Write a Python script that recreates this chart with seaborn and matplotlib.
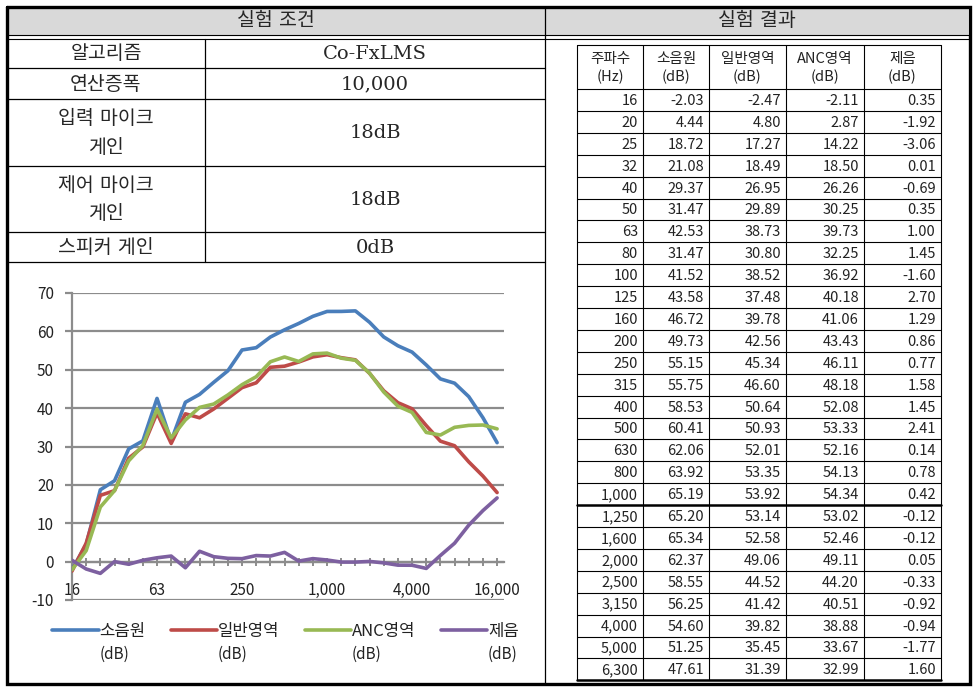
# 실험 조건 / 실험 결과 표 + 주파수별 소음 저감 그래프
import numpy as np
import pandas as pd
import matplotlib.pyplot as plt
import seaborn as sns

# ── 데이터 ───────────────────────────────────────────────
# 1/3 옥타브 중심 주파수 (표는 6,300 Hz 까지, 그래프는 16,000 Hz 까지)
freq = ["16", "20", "25", "32", "40", "50", "63", "80", "100", "125", "160",
        "200", "250", "315", "400", "500", "630", "800", "1,000", "1,250",
        "1,600", "2,000", "2,500", "3,150", "4,000", "5,000", "6,300",
        "8,000", "10,000", "12,500", "16,000"]
n_table = 27

source = [-2.03, 4.44, 18.72, 21.08, 29.37, 31.47, 42.53, 31.47, 41.52, 43.58,
          46.72, 49.73, 55.15, 55.75, 58.53, 60.41, 62.06, 63.92, 65.19, 65.20,
          65.34, 62.37, 58.55, 56.25, 54.60, 51.25, 47.61,
          46.5, 43.0, 37.5, 31.0]
general = [-2.47, 4.80, 17.27, 18.49, 26.95, 29.89, 38.73, 30.80, 38.52, 37.48,
           39.78, 42.56, 45.34, 46.60, 50.64, 50.93, 52.01, 53.35, 53.92, 53.14,
           52.58, 49.06, 44.52, 41.42, 39.82, 35.45, 31.39,
           30.2, 26.0, 22.3, 18.0]
anc = [-2.11, 2.87, 14.22, 18.50, 26.26, 30.25, 39.73, 32.25, 36.92, 40.18,
       41.06, 43.43, 46.11, 48.18, 52.08, 53.33, 52.16, 54.13, 54.34, 53.02,
       52.46, 49.11, 44.20, 40.51, 38.88, 33.67, 32.99,
       35.0, 35.5, 35.6, 34.6]
reduction = [0.35, -1.92, -3.06, 0.01, -0.69, 0.35, 1.00, 1.45, -1.60, 2.70,
             1.29, 0.86, 0.77, 1.58, 1.45, 2.41, 0.14, 0.78, 0.42, -0.12,
             -0.12, 0.05, -0.33, -0.92, -0.94, -1.77, 1.60,
             4.8, 9.5, 13.3, 16.6]

series_names = ["소음원", "일반영역", "ANC영역", "제음"]
series_colors = ["#4a7ebb", "#be4b48", "#98b954", "#7d60a0"]

header_result = ["주파수\n(Hz)", "소음원\n(dB)", "일반영역\n(dB)", "ANC영역\n(dB)", "제음\n(dB)"]
cond_labels = ["알고리즘", "연산증폭", "입력 마이크\n게인", "제어 마이크\n게인", "스피커 게인"]
cond_values = ["Co-FxLMS", "10,000", "18dB", "18dB", "0dB"]

# ── 기본 설정 ────────────────────────────────────────────
sns.set_theme(style="white")
plt.rcParams["font.family"] = ["Noto Sans CJK KR", "DejaVu Sans"]
plt.rcParams["axes.unicode_minus"] = False

W, H = 979, 693
fig = plt.figure(figsize=(W / 100, H / 100), dpi=100)

# 픽셀 좌표계 배경 축 (표 그리기용)
bg = fig.add_axes([0, 0, 1, 1])
bg.set_xlim(0, W)
bg.set_ylim(H, 0)
bg.axis("off")

serif = ["DejaVu Serif", "Noto Sans CJK KR"]
k = "black"

# 외곽선 / 헤더
bg.fill_between([8, 968], 8, 35, color="#d9d9d9", lw=0)
bg.plot([7, 970, 970, 7, 7], [7, 7, 684, 684, 7], color=k, lw=2.4, solid_joinstyle="miter")
bg.plot([7, 970], [35, 35], color=k, lw=0.8)
bg.plot([7, 970], [38.5, 38.5], color=k, lw=0.8)
bg.plot([545, 545], [7, 684], color=k, lw=0.9)
bg.text(276, 21, "실험 조건", ha="center", va="center", fontsize=14, family=serif)
bg.text(757, 21, "실험 결과", ha="center", va="center", fontsize=14, family=serif)

# 실험 조건 표
row_edges = [38.5, 68, 99, 166, 232, 262]
for y in row_edges[1:]:
    bg.plot([7, 545], [y, y], color=k, lw=0.9)
bg.plot([205, 205], [38.5, 262], color=k, lw=0.9)
for i, (lab, val) in enumerate(zip(cond_labels, cond_values)):
    yc = (row_edges[i] + row_edges[i + 1]) / 2
    bg.text(106, yc + 1, lab, ha="center", va="center", fontsize=14,
            family=serif, linespacing=1.75)
    bg.text(375, yc + 1, val, ha="center", va="center", fontsize=14, family=serif)

# 실험 결과 표
col_edges = [577, 643, 709, 786, 864, 941]
t_top, h_bot, row_h = 45, 89, 21.9
t_bot = h_bot + n_table * row_h
for x in col_edges:
    bg.plot([x, x], [t_top, t_bot], color=k, lw=0.8)
bg.plot([577, 941], [t_top, t_top], color=k, lw=0.8)
for r in range(n_table + 1):
    y = h_bot + r * row_h
    bg.plot([577, 941], [y, y], color=k, lw=1.8 if r in (19, n_table) else 0.8)
for j, htxt in enumerate(header_result):
    bg.text((col_edges[j] + col_edges[j + 1]) / 2, (t_top + h_bot) / 2 + 1, htxt,
            ha="center", va="center", fontsize=10.5, linespacing=1.3, color="#222222")
cols = [freq[:n_table],
        [f"{v:.2f}" for v in source[:n_table]],
        [f"{v:.2f}" for v in general[:n_table]],
        [f"{v:.2f}" for v in anc[:n_table]],
        [f"{v:.2f}" for v in reduction[:n_table]]]
for j, col in enumerate(cols):
    for r, txt in enumerate(col):
        bg.text(col_edges[j + 1] - 5, h_bot + (r + 0.5) * row_h + 1, txt,
                ha="right", va="center", fontsize=10.5, color="#222222")

# ── 그래프 ───────────────────────────────────────────────
px_cat = 14.17
ax = fig.add_axes([72 / W, (H - 600) / H, 30.5 * px_cat / W, 307 / H])
ax.patch.set_alpha(0)

df = pd.DataFrame({
    "주파수": freq * 4,
    "값": source + general + anc + reduction,
    "계열": np.repeat(series_names, len(freq)),
})
sns.lineplot(data=df, x="주파수", y="값", hue="계열", hue_order=series_names,
             palette=series_colors, linewidth=2.6, sort=False, legend=False, ax=ax)
for ln in ax.lines:
    ln.set_zorder(4)
    ln.set_solid_joinstyle("round")

grid_c = "#8c8c8c"
ax.set_xlim(0, 30.5)
ax.set_ylim(-10, 70)
ax.set_yticks(range(-10, 71, 10))
ax.set_xticks(range(0, len(freq), 6))
ax.set_xticks(range(len(freq)), minor=True)
ax.set_xlabel("")
ax.set_ylabel("")
ax.grid(axis="y", color=grid_c, lw=1.6)
ax.grid(axis="x", visible=False)
ax.set_axisbelow(True)
for s in ["top", "right"]:
    ax.spines[s].set_visible(False)
ax.spines["left"].set_color(grid_c)
ax.spines["left"].set_linewidth(1.6)
ax.spines["bottom"].set_position(("data", 0))
ax.spines["bottom"].set_color(grid_c)
ax.spines["bottom"].set_linewidth(1.6)
ax.tick_params(axis="y", which="major", left=True, length=5, width=1.6,
               color=grid_c, pad=8, labelsize=11, labelcolor="#222222")
ax.tick_params(axis="x", which="both", bottom=True, direction="inout", length=6,
               width=1.4, color=grid_c)
ax.tick_params(axis="x", which="major", pad=12, labelsize=11, labelcolor="#222222")

handles = ax.lines[:4]
leg = ax.legend(handles, series_names, loc="upper left", ncol=4,
                bbox_to_anchor=(52, 623), bbox_transform=bg.transData,
                frameon=False, fontsize=12, handlelength=2.8, handletextpad=0.05,
                columnspacing=1.5, borderpad=0, borderaxespad=0)
for t in leg.get_texts():
    t.set_color("#222222")

fig.canvas.draw()
for t in leg.get_texts():
    bb = t.get_window_extent()
    fig.text(bb.x0 / W, (bb.y0 - 6) / H, "(dB)", ha="left", va="top",
             fontsize=11, color="#222222")

fig.savefig("out.png", dpi=100)
